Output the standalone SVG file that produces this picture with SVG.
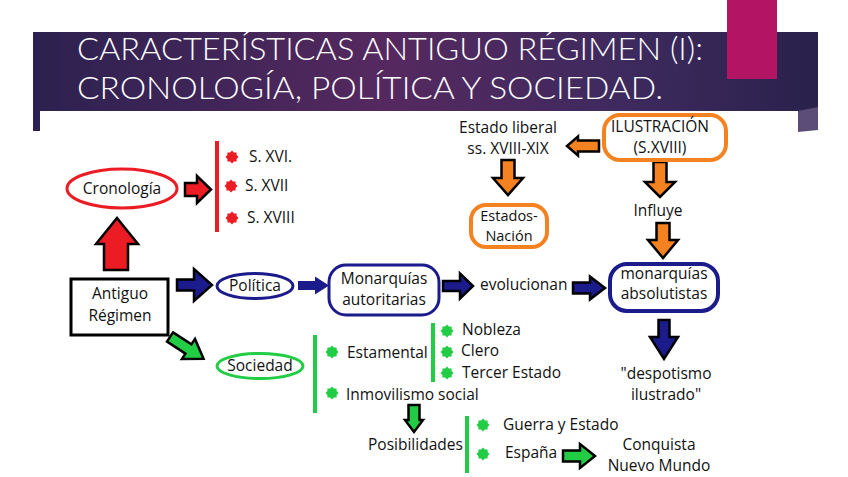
<svg xmlns="http://www.w3.org/2000/svg" width="848" height="477" viewBox="0 0 848 477">
<defs>
<linearGradient id="hdr" x1="0" y1="0" x2="1" y2="0">
<stop offset="0" stop-color="#2c2150"/>
<stop offset="0.45" stop-color="#55295f"/>
<stop offset="0.75" stop-color="#3e2a5e"/>
<stop offset="1" stop-color="#2a214c"/>
</linearGradient>
<style>
.t{font-family:"Open Sans","Liberation Sans",sans-serif;font-size:15.5px;fill:#111}
.tc{text-anchor:middle}
.ttl{font-family:Lato,"Open Sans","Liberation Sans",sans-serif;font-weight:300;font-size:32px;fill:#fff}
.red{fill:#ec1c24}
.navy{fill:#1b1b8c}
.org{fill:#f58220}
.grn{fill:#22cc44}
.ol{stroke:#000;stroke-width:2.5;stroke-linejoin:miter}
</style>
<polygon id="star" points="0,-6.5 1.9,-4.6 4.6,-4.6 4.6,-1.9 6.5,0 4.6,1.9 4.6,4.6 1.9,4.6 0,6.5 -1.9,4.6 -4.6,4.6 -4.6,1.9 -6.5,0 -4.6,-1.9 -4.6,-4.6 -1.9,-4.6"/>
</defs>
<rect width="848" height="477" fill="#fff"/>
<g id="header">
<rect x="33" y="32" width="785" height="79" fill="url(#hdr)"/>
<rect x="33" y="111" width="7" height="20" fill="#2c2150"/>
<polygon points="798,111 818,107 818,130 798,132" fill="#5b4d78"/>
<rect x="727" y="0" width="50" height="79" fill="#b41464"/>
<text class="ttl" x="77" y="60" textLength="626" lengthAdjust="spacingAndGlyphs">CARACTERÍSTICAS ANTIGUO RÉGIMEN (I):</text>
<text class="ttl" x="77" y="99" textLength="586" lengthAdjust="spacingAndGlyphs">CRONOLOGÍA, POLÍTICA Y SOCIEDAD.</text>
</g>
<g id="connectors">
<polygon class="red ol" points="117,218 138,244 128,244 128,270 104,270 104,244 96,244"/>
<polygon class="red ol" points="185,183 197,183 197,176 211,189.5 197,203 197,196 185,196"/>
<rect x="215" y="141" width="4" height="91" class="red"/>
<polygon class="navy ol" points="177,279.5 194,279.5 194,269 212,285 194,301 194,290.5 177,290.5"/>
<polygon class="navy" points="298,281 315,281 315,276.5 329,285.5 315,294.5 315,290 298,290"/>
<polygon class="navy ol" points="443,281 460,281 460,273.5 473,286 460,298.5 460,291 443,291"/>
<polygon class="navy ol" points="573,282.5 590,282.5 590,276.5 605,288 590,299.5 590,293.5 573,293.5"/>
<polygon class="navy ol" points="658.5,320 669.5,320 669.5,337 678,337 664,359 650,337 658.5,337"/>
<polygon class="org ol" points="599,140.5 578,140.5 578,136.5 567,146 578,155.5 578,151.5 599,151.5"/>
<polygon class="org ol" points="501.5,160 514.5,160 514.5,178 523,178 508,195 493,178 501.5,178"/>
<polygon class="org ol" points="653.5,162 666.5,162 666.5,182 675,182 660,197 645,182 653.5,182"/>
<polygon class="org ol" points="656.5,223 669.5,223 669.5,240 678,240 663,258 648,240 656.5,240"/>
<polygon class="grn ol" transform="translate(170,337) rotate(33)" points="0,-5.5 22,-5.5 22,-12 40,0 22,12 22,5.5 0,5.5"/>
<rect x="313" y="335" width="4" height="78" class="grn"/>
<rect x="431" y="323" width="4" height="59" class="grn"/>
<polygon class="grn ol" points="408.5,405 419.5,405 419.5,420 423,420 414,432 405,420 408.5,420"/>
<rect x="465" y="416" width="4" height="57" class="grn"/>
<polygon class="grn ol" points="563,450.5 580,450.5 580,444 595,456 580,468 580,461.5 563,461.5"/>
</g>
<g id="cronologia">
<ellipse cx="122" cy="188.5" rx="55" ry="19.5" fill="#fff" stroke="#ec1c24" stroke-width="3"/>
<text class="t tc" x="122" y="194">Cronología</text>
</g>
<g id="siglos">
<use href="#star" class="red" x="232" y="157"/>
<use href="#star" class="red" x="231" y="186"/>
<use href="#star" class="red" x="232" y="218"/>
<text class="t" x="249" y="162">S. XVI.</text>
<text class="t" x="245" y="191">S. XVII</text>
<text class="t" x="247" y="223">S. XVIII</text>
</g>
<g id="antiguo">
<rect x="71" y="279" width="97" height="56" fill="#fff" stroke="#000" stroke-width="3"/>
<text class="t tc" x="120" y="299">Antiguo</text>
<text class="t tc" x="120" y="321">Régimen</text>
</g>
<g id="politica">
<ellipse cx="255" cy="286" rx="38" ry="12.5" fill="#fff" stroke="#1b1b8c" stroke-width="3"/>
<text class="t tc" x="255" y="291">Política</text>
</g>
<g id="autoritarias">
<rect x="329" y="265" width="110" height="50" rx="17" fill="#fff" stroke="#1b1b8c" stroke-width="3"/>
<text class="t tc" x="384" y="284">Monarquías</text>
<text class="t tc" x="384" y="305">autoritarias</text>
</g>
<g id="evolucionan">
<text class="t" x="480" y="290">evolucionan</text>
</g>
<g id="absolutistas">
<rect x="610" y="264" width="108" height="47" rx="17" fill="#fff" stroke="#1b1b8c" stroke-width="4"/>
<text class="t tc" x="664" y="279">monarquías</text>
<text class="t tc" x="664" y="299">absolutistas</text>
</g>
<g id="despotismo">
<text class="t tc" x="666" y="379">"despotismo</text>
<text class="t tc" x="666" y="400">ilustrado"</text>
</g>
<g id="ilustracion">
<rect x="604" y="115" width="122" height="45" rx="16" fill="#fff" stroke="#f58220" stroke-width="4"/>
<text class="t tc" x="660" y="132">ILUSTRACIÓN</text>
<text class="t tc" x="660" y="153">(S.XVIII)</text>
</g>
<g id="estadoliberal">
<text class="t tc" x="508" y="133">Estado liberal</text>
<text class="t tc" x="508" y="154">ss. XVIII-XIX</text>
</g>
<g id="estadosnacion">
<rect x="471" y="205" width="76" height="42" rx="15" fill="#fff" stroke="#f58220" stroke-width="4"/>
<text class="t tc" x="509" y="221" style="font-size:14.5px">Estados-</text>
<text class="t tc" x="509" y="241" style="font-size:14.5px">Nación</text>
</g>
<g id="influye">
<text class="t tc" x="658" y="216">Influye</text>
</g>
<g id="sociedad">
<ellipse cx="260" cy="366" rx="43" ry="12.5" fill="#fff" stroke="#22cc44" stroke-width="3"/>
<text class="t tc" x="260" y="371">Sociedad</text>
</g>
<g id="estamental">
<use href="#star" class="grn" x="332" y="352"/>
<text class="t" x="347" y="358">Estamental</text>
<use href="#star" class="grn" x="447" y="331"/>
<use href="#star" class="grn" x="447" y="352"/>
<use href="#star" class="grn" x="447" y="373"/>
<text class="t" x="462" y="335">Nobleza</text>
<text class="t" x="461" y="356">Clero</text>
<text class="t" x="462" y="378">Tercer Estado</text>
</g>
<g id="inmovilismo">
<use href="#star" class="grn" x="332" y="393"/>
<text class="t" x="346" y="400">Inmovilismo social</text>
</g>
<g id="posibilidades">
<text class="t" x="368" y="450">Posibilidades</text>
<use href="#star" class="grn" x="483" y="425"/>
<use href="#star" class="grn" x="483" y="454"/>
<text class="t" x="503" y="430">Guerra y Estado</text>
<text class="t" x="505" y="458">España</text>
</g>
<g id="conquista">
<text class="t tc" x="659" y="450">Conquista</text>
<text class="t tc" x="659" y="471">Nuevo Mundo</text>
</g>
</svg>
